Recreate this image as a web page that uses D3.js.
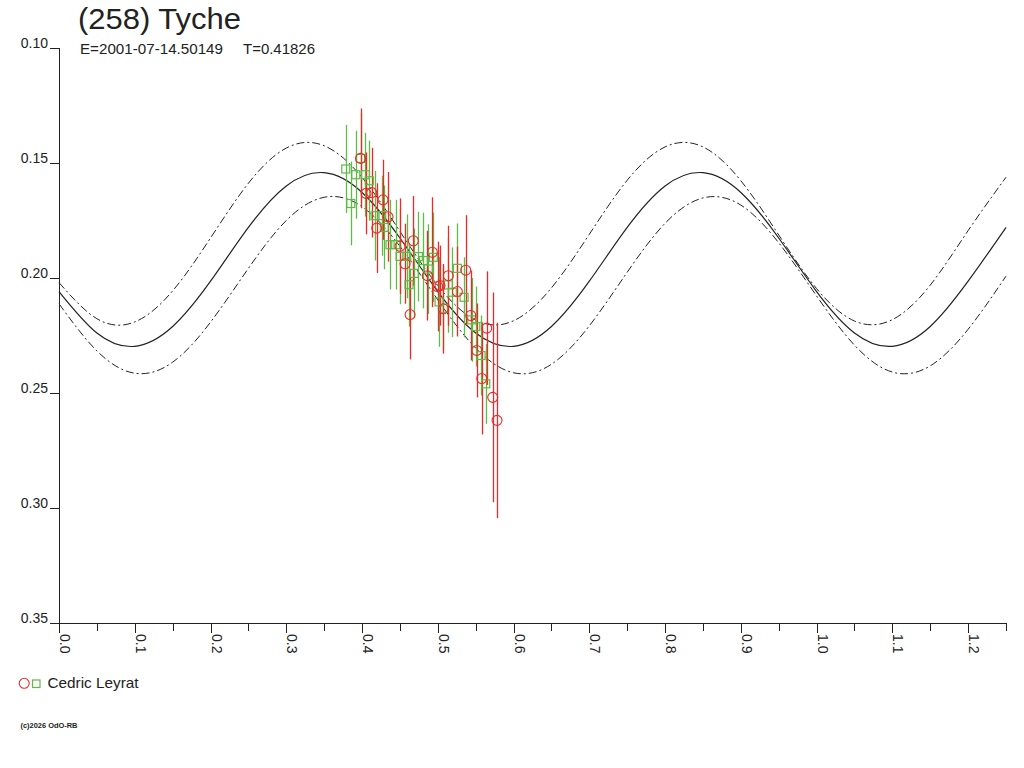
<!DOCTYPE html>
<html><head><meta charset="utf-8">
<script src="https://cdn.jsdelivr.net/npm/d3@7"></script>
<style>
body{margin:0;background:#fff}
svg{display:block}
text{font-family:"Liberation Sans",Arial,Helvetica,sans-serif;fill:#222}
</style></head>
<body><svg id="c" width="1024" height="768"></svg>
<script>
// ---------- data ----------
const title = "(258) Tyche";
const epochText = "E=2001-07-14.50149";
const periodText = "T=0.41826";
const observer = "Cedric Leyrat";
const footer = "(c)2026 OdO-RB";

const yTicks = [0.10, 0.15, 0.20, 0.25, 0.30, 0.35];
const yTickLabels = ["0.10", "0.15", "0.20", "0.25", "0.30", "0.35"];
const xMajor = [0.0, 0.1, 0.2, 0.3, 0.4, 0.5, 0.6, 0.7, 0.8, 0.9, 1.0, 1.1, 1.2];
const xMajorLabels = ["0.0","0.1","0.2","0.3","0.4","0.5","0.6","0.7","0.8","0.9","1.0","1.1","1.2"];
const xMinor = [0.05,0.15,0.25,0.35,0.45,0.55,0.65,0.75,0.85,0.95,1.05,1.15,1.25];

// model curves
const curvePhase = [0,0.05,0.10,0.15,0.20,0.25,0.30,0.35,0.40,0.45,0.50,0.55,0.60,0.65,0.70,0.75,0.80,0.85,0.90,0.95,1.00,1.05,1.10,1.15,1.20,1.25];
const modelMid   = [0.2059,0.2239,0.2297,0.2211,0.2014,0.1780,0.1600,0.1542,0.1628,0.1826,0.2059,0.2239,0.2297,0.2211,0.2014,0.1780,0.1600,0.1542,0.1628,0.1826,0.2059,0.2239,0.2297,0.2211,0.2014,0.1780];
const modelUpper = [0.2020,0.2177,0.2191,0.2056,0.1826,0.1588,0.1435,0.1425,0.1563,0.1797,0.2033,0.2183,0.2186,0.2043,0.1810,0.1575,0.1430,0.1430,0.1577,0.1813,0.2046,0.2187,0.2181,0.2031,0.1794,0.1562];
const modelLower = [0.2112,0.2317,0.2414,0.2366,0.2192,0.1958,0.1750,0.1649,0.1690,0.1862,0.2095,0.2305,0.2412,0.2375,0.2208,0.1975,0.1762,0.1652,0.1683,0.1847,0.2078,0.2292,0.2409,0.2382,0.2223,0.1992];

// observations: red circles
const redPhase = [0.3980,0.4053,0.4128,0.4277,0.4194,0.4343,0.4502,0.4677,0.4568,0.4634,0.4862,0.4928,0.4999,0.5073,0.5139,0.5258,0.5369,0.5030,0.5435,0.5514,0.5580,0.5646,0.5725,0.5782];
const redMag   = [0.1480,0.1632,0.1629,0.1660,0.1783,0.1734,0.1862,0.1838,0.1938,0.2159,0.1990,0.1888,0.2037,0.2134,0.1990,0.2059,0.1966,0.2033,0.2163,0.2315,0.2437,0.2218,0.2519,0.2619];
const redErr   = [0.0217,0.0178,0.0195,0.0174,0.0195,0.0195,0.0208,0.0195,0.0174,0.0195,0.0195,0.0239,0.0195,0.0195,0.0217,0.0195,0.0239,0.0174,0.0195,0.0204,0.0243,0.0247,0.0456,0.0425];

// observations: green squares
const greenPhase = [0.3785,0.3851,0.3917,0.3980,0.4044,0.4096,0.4172,0.4260,0.4294,0.4370,0.4445,0.4502,0.4590,0.4690,0.4620,0.4743,0.4809,0.4875,0.4941,0.5017,0.5139,0.5192,0.5258,0.5347,0.5448,0.5501,0.5571,0.5633,0.5073];
const greenMag   = [0.1526,0.1676,0.1551,0.1480,0.1551,0.1577,0.1729,0.1729,0.1780,0.1855,0.1855,0.1906,0.1906,0.1980,0.2029,0.1907,0.1924,0.1961,0.1910,0.2104,0.2030,0.2062,0.1958,0.2084,0.2182,0.2211,0.2337,0.2460,0.2132];
const greenErr   = [0.0191,0.0182,0.0191,0.0195,0.0182,0.0174,0.0195,0.0174,0.0182,0.0195,0.0195,0.0208,0.0182,0.0195,0.0182,0.0195,0.0208,0.0195,0.0195,0.0195,0.0208,0.0195,0.0195,0.0174,0.0182,0.0174,0.0174,0.0174,0.0182];

// ---------- drawing ----------
const RED = "#ee2828", GREEN = "#5cbc44", INK = "#222";
const svg = d3.select("#c");
const x = d3.scaleLinear().domain([0, 1.25]).range([59, 1006]);
const y = d3.scaleLinear().domain([0.10, 0.35]).range([48, 623]);

// title
svg.append("text").attr("x", 78).attr("y", 29).attr("font-size", 29)
  .attr("textLength", 163).attr("lengthAdjust", "spacingAndGlyphs").text(title);
svg.append("text").attr("x", 80).attr("y", 54).attr("font-size", 15)
  .attr("textLength", 143).attr("lengthAdjust", "spacingAndGlyphs").text(epochText);
svg.append("text").attr("x", 243).attr("y", 54).attr("font-size", 15)
  .attr("textLength", 72).attr("lengthAdjust", "spacingAndGlyphs").text(periodText);

// axes
const ax = svg.append("g").attr("stroke", INK).attr("stroke-width", 1).attr("shape-rendering", "crispEdges");
ax.append("line").attr("x1", x(0)+0.5).attr("x2", x(0)+0.5).attr("y1", y(0.10)).attr("y2", y(0.35)+0.5);
ax.append("line").attr("x1", x(0)).attr("x2", x(1.25)+1).attr("y1", y(0.35)+0.5).attr("y2", y(0.35)+0.5);
yTicks.forEach(v => {
  ax.append("line").attr("x1", 50).attr("x2", x(0)).attr("y1", Math.round(y(v))+0.5).attr("y2", Math.round(y(v))+0.5);
});
xMajor.forEach(v => {
  ax.append("line").attr("x1", Math.round(x(v))+0.5).attr("x2", Math.round(x(v))+0.5).attr("y1", y(0.35)).attr("y2", y(0.35)+10);
});
xMinor.forEach(v => {
  ax.append("line").attr("x1", Math.round(x(v))+0.5).attr("x2", Math.round(x(v))+0.5).attr("y1", y(0.35)).attr("y2", y(0.35)+8);
});
yTicks.forEach((v, i) => {
  svg.append("text").attr("x", 48).attr("y", y(v)).attr("text-anchor", "end")
    .attr("font-size", 14).text(yTickLabels[i]);
});
xMajor.forEach((v, i) => {
  svg.append("text").attr("transform", `translate(${x(v)+1},634) rotate(90)`)
    .attr("font-size", 14).text(xMajorLabels[i]);
});

// model curves
const line = (arr) => d3.line().x((d, i) => x(curvePhase[i])).y(d => y(d)).curve(d3.curveNatural)(arr);
svg.append("path").attr("d", line(modelUpper)).attr("fill", "none").attr("stroke", INK)
  .attr("stroke-width", 1).attr("stroke-dasharray", "8,3,2,3");
svg.append("path").attr("d", line(modelLower)).attr("fill", "none").attr("stroke", INK)
  .attr("stroke-width", 1).attr("stroke-dasharray", "8,3,2,3");
svg.append("path").attr("d", line(modelMid)).attr("fill", "none").attr("stroke", INK)
  .attr("stroke-width", 1.2);

// observations
const g = svg.append("g");
greenPhase.forEach((p, i) => {
  const cx = Math.round(x(p)) + 0.5;
  g.append("line").attr("x1", cx).attr("x2", cx)
    .attr("y1", y(greenMag[i] - greenErr[i])).attr("y2", y(greenMag[i] + greenErr[i]))
    .attr("stroke", GREEN).attr("stroke-width", 1.3);
});
redPhase.forEach((p, i) => {
  const cx = Math.round(x(p)) + 0.5;
  g.append("line").attr("x1", cx).attr("x2", cx)
    .attr("y1", y(redMag[i] - redErr[i])).attr("y2", y(redMag[i] + redErr[i]))
    .attr("stroke", RED).attr("stroke-width", 1.3);
});
greenPhase.forEach((p, i) => {
  g.append("rect").attr("x", x(p) - 4).attr("y", y(greenMag[i]) - 4).attr("width", 8).attr("height", 8)
    .attr("fill", "none").attr("stroke", GREEN).attr("stroke-width", 1.2);
});
redPhase.forEach((p, i) => {
  g.append("circle").attr("cx", x(p)).attr("cy", y(redMag[i])).attr("r", 5)
    .attr("fill", "none").attr("stroke", RED).attr("stroke-width", 1.1);
});

// legend
svg.append("circle").attr("cx", 24.2).attr("cy", 683.3).attr("r", 5)
  .attr("fill", "none").attr("stroke", RED).attr("stroke-width", 1.1);
svg.append("rect").attr("x", 32.5).attr("y", 680).attr("width", 7.5).attr("height", 7.5)
  .attr("fill", "none").attr("stroke", GREEN).attr("stroke-width", 1.2);
svg.append("text").attr("x", 47.5).attr("y", 688).attr("font-size", 15)
  .attr("textLength", 91).attr("lengthAdjust", "spacingAndGlyphs").text(observer);

// footer
svg.append("text").attr("x", 20.5).attr("y", 728).attr("font-size", 8).attr("font-weight", "bold")
  .attr("textLength", 57).attr("lengthAdjust", "spacingAndGlyphs").text(footer);
</script></body></html>
